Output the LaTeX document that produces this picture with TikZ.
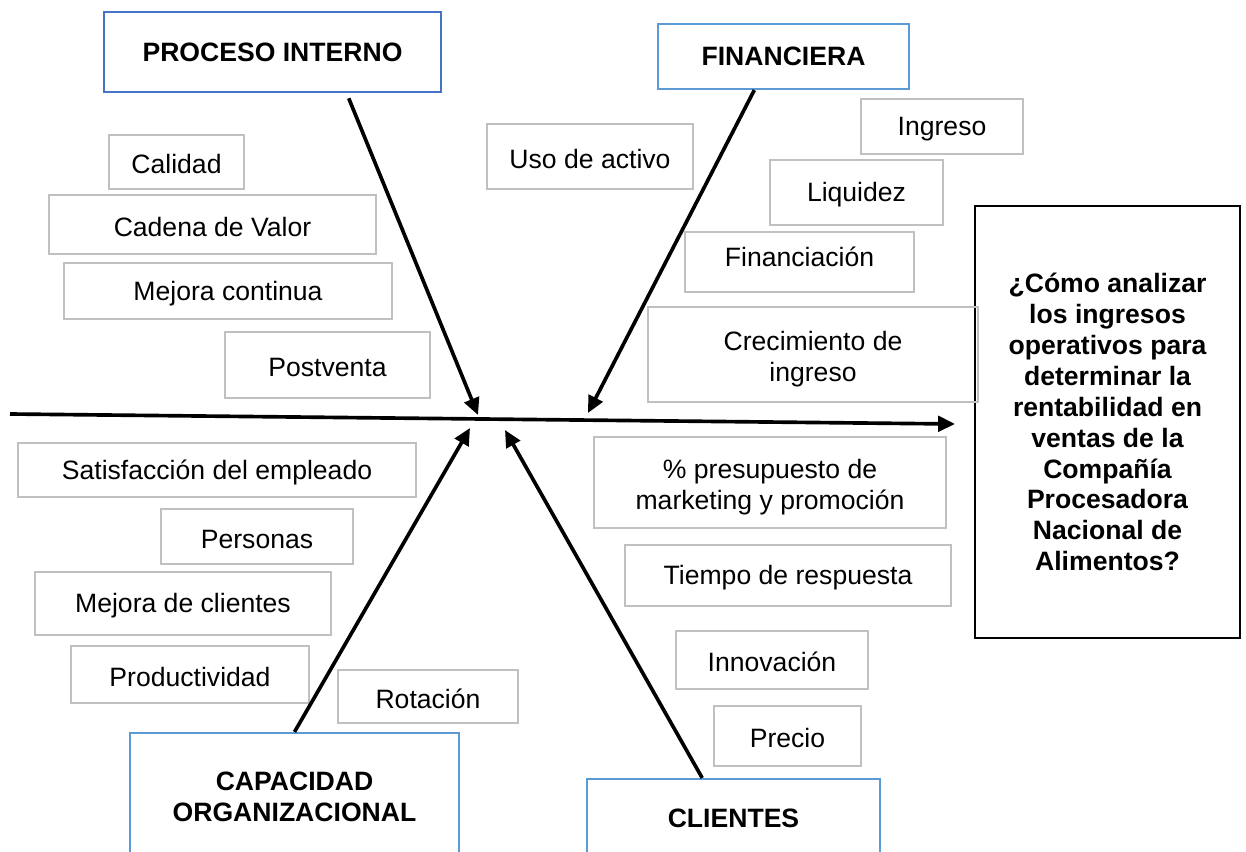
\documentclass[tikz,border=0pt]{standalone}
\usepackage{fontspec}
\setmainfont{Liberation Sans}
\usetikzlibrary{positioning}
\usetikzlibrary{arrows.meta}

\definecolor{azul}{RGB}{91,155,213}
\definecolor{azuloscuro}{RGB}{68,114,196}
\definecolor{grisborde}{RGB}{192,192,192}

\begin{document}
\begin{tikzpicture}[x=0.025cm, y=-0.025cm,
    every node/.style={font=\fontsize{18.9}{22}\selectfont, align=center, inner sep=0pt},
    factordoble/.style={draw=grisborde, line width=1.3pt},
    factor/.style={factordoble, text height=17pt},
    categoria/.style={draw=azul, line width=1.5pt, font=\fontsize{18.9}{22}\selectfont\bfseries},
    flecha/.style={-{Triangle[length=12pt,width=11pt]}, line width=2.6pt}]
            \useasboundingbox (0,0) rectangle (1246,852);

            % Categorias
            \node[categoria, draw=azuloscuro, minimum width=8.425cm, minimum height=2cm] (proc) at (272.5,52) {PROCESO INTERNO};
            \node[categoria, minimum width=6.275cm, minimum height=1.625cm] (fin) at (783.5,56.5) {FINANCIERA};
            \node[categoria, minimum width=8.225cm, minimum height=3.2cm] (cap) at (294.5,797) {CAPACIDAD\\ORGANIZACIONAL};
            \node[categoria, minimum width=7.325cm, minimum height=1.95cm] (cli) at (733.5,818) {CLIENTES};

            % Problema
            \node[draw, line width=1.6pt, minimum width=6.625cm, minimum height=10.8cm,
                  font=\fontsize{18.9}{22}\selectfont\bfseries] (problema) at (1107.5,422)
                  {¿Cómo analizar\\los ingresos\\operativos para\\determinar la\\rentabilidad en\\ventas de la\\Compañía\\Procesadora\\Nacional de\\Alimentos?};

            % Factores proceso interno
            \node[factor, minimum width=3.375cm, minimum height=1.35cm] (calidad) at (176.5,162) {Calidad};
            \node[factor, minimum width=8.175cm, minimum height=1.475cm] (cadena) at (212.5,224.5) {Cadena de Valor};
            \node[factor, minimum width=8.2cm, minimum height=1.4cm] (mejora) at (228,291) {Mejora continua};
            \node[factor, minimum width=5.125cm, minimum height=1.65cm] (postventa) at (327.5,365) {Postventa};

            % Factores financiera
            \node[factor, minimum width=5.15cm, minimum height=1.625cm] (activo) at (590,156.5) {Uso de activo};
            \node[factor, minimum width=4.05cm, minimum height=1.375cm] (ingreso) at (942,126.5) {Ingreso};
            \node[factor, minimum width=4.325cm, minimum height=1.625cm] (liquidez) at (856.5,192.5) {Liquidez};
            \node[factor, minimum width=5.725cm, minimum height=1.5cm] (financiacion) at (799.5,262) {\raisebox{5pt}{Financiación}};
            \node[factordoble, minimum width=8.25cm, minimum height=2.375cm] (crecimiento) at (813,354.5) {\rule{0pt}{20pt}Crecimiento de\\ingreso};

            % Factores clientes
            \node[factordoble, minimum width=8.8cm, minimum height=2.275cm] (presupuesto) at (770,482.5) {\rule{0pt}{20pt}\% presupuesto de\\marketing y promoción};
            \node[factor, minimum width=8.15cm, minimum height=1.525cm] (tiempo) at (788,575.5) {Tiempo de respuesta};
            \node[factor, minimum width=4.8cm, minimum height=1.45cm] (innovacion) at (772,660) {Innovación};
            \node[factor, minimum width=3.675cm, minimum height=1.5cm] (precio) at (787.5,736) {Precio};

            % Factores capacidad organizacional
            \node[factor, minimum width=9.95cm, minimum height=1.35cm] (satisfaccion) at (217,470) {Satisfacción del empleado};
            \node[factor, minimum width=4.8cm, minimum height=1.375cm] (personas) at (257,536.5) {Personas};
            \node[factor, minimum width=7.4cm, minimum height=1.575cm] (mejoracli) at (183,603.5) {Mejora de clientes};
            \node[factor, minimum width=5.95cm, minimum height=1.425cm] (productividad) at (190,674.5) {Productividad};
            \node[factor, minimum width=4.5cm, minimum height=1.325cm] (rotacion) at (428,696.5) {Rotación};

            % Espina
            \coordinate (cola) at (10,414);
            \coordinate (cabeza) at (955,424);
            \coordinate (pproc) at (478,415);
            \coordinate (pfin) at (588,413);
            \coordinate (pcap) at (470,428);
            \coordinate (pcli) at (505,430);

            % Flechas
            \draw[flecha] (cola) -- (cabeza);
            \draw[flecha, shorten <=4pt] (proc.-29) -- (pproc);
            \draw[flecha] (fin.-131) -- (pfin);
            \draw[flecha] (cap.north) -- (pcap);
            \draw[flecha] (cli.128) -- (pcli);
          \end{tikzpicture}
\end{document}
